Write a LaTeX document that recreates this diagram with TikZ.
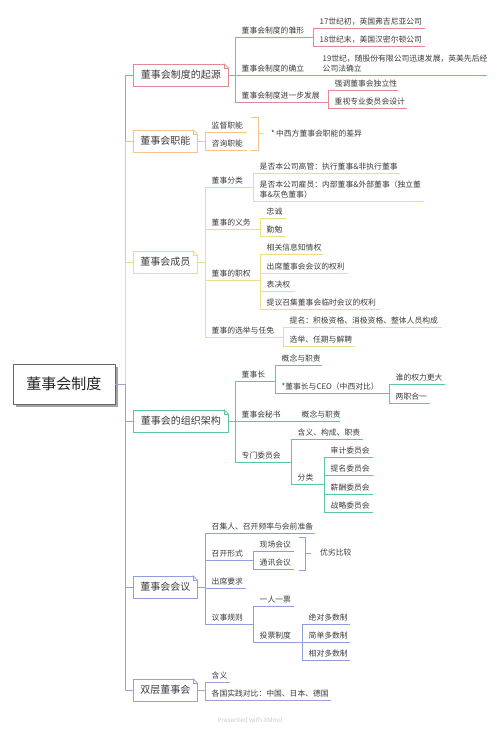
\documentclass[tikz,border=0pt]{standalone}
\usepackage{fontspec}
\newfontfamily\cjk{Noto Sans CJK SC}
\newfontfamily\latf{Open Sans}
\usetikzlibrary{calc,shadows}
\definecolor{c1}{HTML}{E28B8F}
\definecolor{c2}{HTML}{F3C389}
\definecolor{c3}{HTML}{EEDD85}
\definecolor{c4}{HTML}{5BC5A4}
\definecolor{c5}{HTML}{8E9FDD}
\definecolor{c6}{HTML}{A79CD3}
\definecolor{txt}{HTML}{3C3C3C}
\tikzset{
  sub/.style={anchor=south west, inner xsep=6.5pt, inner ysep=2.6pt, text=txt, align=left,
    font=\cjk\fontsize{7.8}{10}\selectfont},
  ln/.style={line width=0.8pt},
  box/.style={anchor=west, fill=white, line width=0.9pt, minimum height=22pt, inner xsep=6pt,
    text=txt, font=\cjk\fontsize{10}{12}\selectfont},
  rootbox/.style={draw=black!60, fill=white, line width=0.8pt, minimum width=102pt, minimum height=40pt,
    text=black!85, font=\cjk\fontsize{15}{18}\selectfont,
    drop shadow={shadow xshift=2.5pt, shadow yshift=-2.5pt, fill=black!45, opacity=0.8}},
  summ/.style={anchor=west, inner sep=1pt, text=txt, font=\cjk\fontsize{7.8}{10}\selectfont}
}
\newcommand\tp[6]{%
  \node[sub] (#1) at (#3,#4) {#6};
  \coordinate (#1e) at (#5,#4);
  \draw[#2,ln] (#1.south west) -- (#1e);}
\newcommand\bx[5]{%
  \node[box, draw=#2, minimum width=#4] (#1) at (133,#3) {#5};
  \fill[white] ([xshift=-5.5pt,yshift=0.6pt]#1.north east) -- ([xshift=0.6pt,yshift=0.6pt]#1.north east) -- ([xshift=0.6pt,yshift=-5.5pt]#1.north east) -- cycle;
  \draw[#2, line width=0.7pt] ([xshift=-5pt]#1.north east) -- ([yshift=-5pt]#1.north east);
  \draw[#2, line width=0.5pt] ([xshift=-5pt]#1.north east) -- ([xshift=-5pt,yshift=-5pt]#1.north east) -- ([yshift=-5pt]#1.north east);}
\begin{document}
\begin{tikzpicture}[x=1pt,y=-1pt]
\useasboundingbox (0,0) rectangle (500,734);
\fill[white] (0,0) rectangle (500,734);
% root
\node[rootbox] (root) at (64,384) {董事会制度};
\coordinate (tx) at (125,0);
% boxes
\bx{b1}{c1}{75}{95pt}{董事会制度的起源}
\bx{b2}{c2}{141}{64pt}{董事会职能}
\bx{b3}{c3}{262}{64pt}{董事会成员}
\bx{b4}{c4}{421}{95pt}{董事会的组织架构}
\bx{b5}{c5}{587}{64pt}{董事会会议}
\bx{b6}{c6}{690}{64pt}{双层董事会}
% trunk
\coordinate (t0) at (root.east -| tx);
\coordinate (t1) at (b1.west -| tx);
\coordinate (t2) at (b2.west -| tx);
\coordinate (t3) at (b3.west -| tx);
\coordinate (t4) at (b4.west -| tx);
\coordinate (t5) at (b5.west -| tx);
\coordinate (t6) at (b6.west -| tx);
\draw[c6,ln] (root.east) -- (t0);
\draw[c1,ln] (t1) -- (t2);
\draw[c2,ln] (t2) -- (t3);
\draw[c3,ln] (t3) -- (t0);
\draw[c6,ln] (t0) -- (t6);
\draw[c1,ln] (t1) -- (b1.west);
\draw[c2,ln] (t2) -- (b2.west);
\draw[c3,ln] (t3) -- (b3.west);
\draw[c4,ln] (t4) -- (b4.west);
\draw[c5,ln] (t5) -- (b5.west);
\draw[c6,ln] (t6) -- (b6.west);
% ---------- branch 1
\tp{a1}{c1}{235}{37}{313}{董事会制度的雏形}
\tp{a2}{c1}{235}{75}{318}{董事会制度的确立}
\tp{a3}{c1}{235}{102}{328}{董事会制度进一步发展}
\tp{a11}{c1}{313}{28}{425}{17世纪初，英国弗吉尼亚公司}
\tp{a12}{c1}{313}{46}{425}{18世纪末，美国汉密尔顿公司}
\tp{a21}{c1}{316}{75}{487}{19世纪，随股份有限公司迅速发展，英美先后经\\公司法确立}
\tp{a31}{c1}{328}{90}{398}{强调董事会独立性}
\tp{a32}{c1}{328}{108}{407}{重视专业委员会设计}
\draw[c1,ln] (b1.east) -- (b1.east -| a1.south west);
\draw[c1,ln] (a1.south west) -- (a3.south west);
\draw[c1,ln] (a11.south west) -- (a12.south west);
\draw[c1,ln] (a31.south west) -- (a32.south west);
% ---------- branch 2
\tp{f1}{c2}{205}{132}{247}{监督职能}
\tp{f2}{c2}{205}{150}{247}{咨询职能}
\draw[c2,ln] (b2.east) -- (b2.east -| f1.south west);
\draw[c2,ln] (f1.south west) -- (f2.south west);
\node[summ] (s2) at (270,134) {*\,中西方董事会职能的差异};
\coordinate (br2) at (258,133);
\draw[c2,ln] (251,117) -- (258,117) -- (258,150) -- (251,150);
\draw[c2,ln] (br2) -- (s2.west -| 264,0);
% ---------- branch 3
\tp{m1}{c3}{205}{187}{253}{董事分类}
\tp{m2}{c3}{205}{229}{260}{董事的义务}
\tp{m3}{c3}{205}{280}{260}{董事的职权}
\tp{m4}{c3}{205}{337}{283}{董事的选举与任免}
\tp{m11}{c3}{253}{173}{400}{是否本公司高管：执行董事\&非执行董事}
\tp{m12}{c3}{253}{201}{424}{是否本公司雇员：内部董事\&外部董事（独立董\\事\&灰色董事）}
\tp{m21}{c3}{260}{218}{286}{忠诚}
\tp{m22}{c3}{260}{236}{286}{勤勉}
\tp{m31}{c3}{260}{254}{323}{相关信息知情权}
\tp{m32}{c3}{260}{273}{348}{出席董事会会议的权利}
\tp{m33}{c3}{260}{291}{295}{表决权}
\tp{m34}{c3}{260}{309}{380}{提议召集董事会临时会议的权利}
\tp{m41}{c3}{283}{327}{442}{提名：积极资格、消极资格、整体人员构成}
\tp{m42}{c3}{283}{346}{355}{选举、任期与解聘}
\draw[c3,ln] (b3.east) -- (b3.east -| m1.south west);
\draw[c3,ln] (m1.south west) -- (m4.south west);
\draw[c3,ln] (m11.south west) -- (m12.south west);
\draw[c3,ln] (m21.south west) -- (m22.south west);
\draw[c3,ln] (m31.south west) -- (m34.south west);
\draw[c3,ln] (m41.south west) -- (m42.south west);
% ---------- branch 4
\tp{o1}{c4}{235}{381}{275}{董事长}
\tp{o2}{c4}{235}{421}{295}{董事会秘书}
\tp{o3}{c4}{235}{462}{291}{专门委员会}
\tp{o11}{c4}{275}{365}{322}{概念与职责}
\tp{o12}{c4}{275}{393}{389}{*董事长与CEO（中西对比）}
\tp{o121}{c4}{389}{384}{445}{谁的权力更大}
\tp{o122}{c4}{389}{403}{430}{两职合一}
\tp{o21}{c4}{295}{421}{340}{概念与职责}
\tp{o31}{c4}{291}{439}{363}{含义、构成、职责}
\tp{o32}{c4}{291}{484}{324}{分类}
\tp{o321}{c4}{324}{457}{373}{审计委员会}
\tp{o322}{c4}{324}{475}{373}{提名委员会}
\tp{o323}{c4}{324}{494}{373}{薪酬委员会}
\tp{o324}{c4}{324}{512}{373}{战略委员会}
\draw[c4,ln] (b4.east) -- (b4.east -| o1.south west);
\draw[c4,ln] (o1.south west) -- (o3.south west);
\draw[c4,ln] (o11.south west) -- (o12.south west);
\draw[c4,ln] (o121.south west) -- (o122.south west);
\draw[c4,ln] (o31.south west) -- (o32.south west);
\draw[c4,ln] (o321.south west) -- (o324.south west);
% ---------- branch 5
\tp{p1}{c5}{205}{533}{315}{召集人、召开频率与会前准备}
\tp{p2}{c5}{205}{560}{253}{召开形式}
\tp{p3}{c5}{205}{588}{246}{出席要求}
\tp{p4}{c5}{205}{624}{253}{议事规则}
\tp{p21}{c5}{253}{551}{294}{现场会议}
\tp{p22}{c5}{253}{569}{294}{通讯会议}
\tp{p41}{c5}{253}{606}{294}{一人一票}
\tp{p42}{c5}{253}{642}{302}{投票制度}
\tp{p421}{c5}{302}{624}{350}{绝对多数制}
\tp{p422}{c5}{302}{642}{350}{简单多数制}
\tp{p423}{c5}{302}{660}{350}{相对多数制}
\draw[c5,ln] (b5.east) -- (b5.east -| p1.south west);
\draw[c5,ln] (p1.south west) -- (p4.south west);
\draw[c5,ln] (p21.south west) -- (p22.south west);
\draw[c5,ln] (p41.south west) -- (p42.south west);
\draw[c5,ln] (p421.south west) -- (p423.south west);
\node[summ] (s5) at (319,553) {优劣比较};
\coordinate (br5) at (305,553);
\draw[c5,ln] (299,537) -- (305,537) -- (305,570) -- (299,570);
\draw[c5,ln] (br5) -- (s5.west -| 311,0);
% ---------- branch 6
\tp{q1}{c6}{205}{682}{230}{含义}
\tp{q2}{c6}{205}{700}{331}{各国实践对比：中国、日本、德国}
\draw[c6,ln] (b6.east) -- (b6.east -| q1.south west);
\draw[c6,ln] (q1.south west) -- (q2.south west);
% footer
\node[text=black!22, font=\latf\fontsize{6.3}{8}\selectfont] (foot) at (250,720) {Presented with XMind};
\end{tikzpicture}
\end{document}
